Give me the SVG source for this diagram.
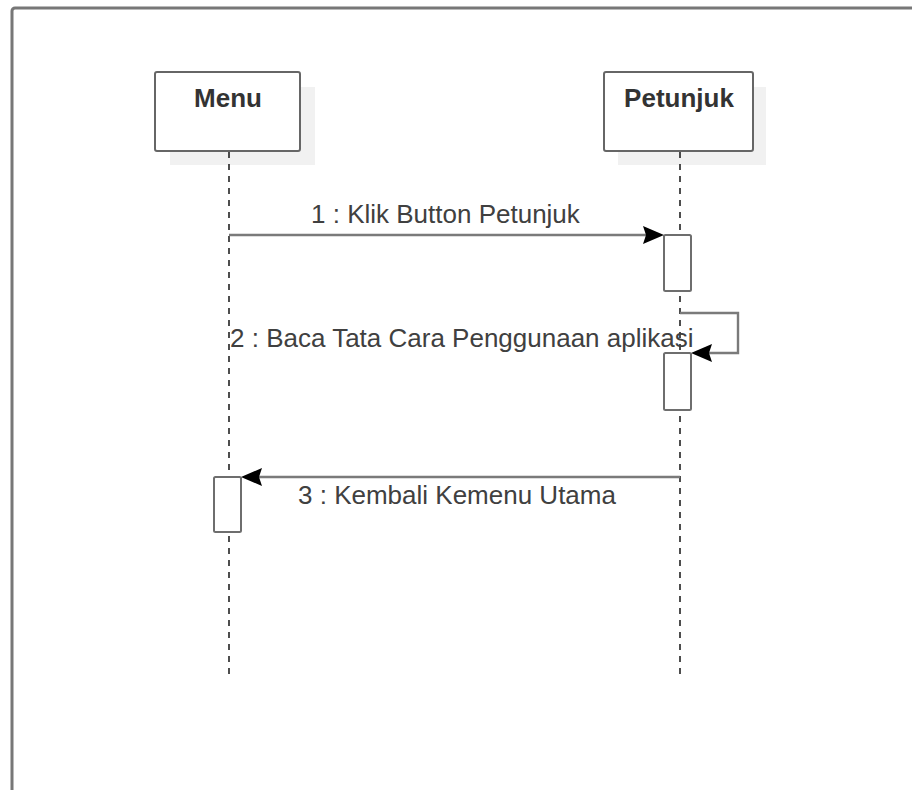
<svg xmlns="http://www.w3.org/2000/svg" width="912" height="790" viewBox="0 0 912 790">
  <style>
    .frame { fill: #ffffff; stroke: #777777; stroke-width: 3; }
    .shadow { fill: #f1f1f1; }
    .head { fill: #ffffff; stroke: #666666; stroke-width: 2; }
    .title { font-family: "Liberation Sans", Arial, sans-serif; font-size: 26px; font-weight: bold; fill: #333333; text-anchor: middle; }
    .life { stroke: #222222; stroke-width: 1.6; stroke-dasharray: 6 6; fill: none; }
    .act { fill: #ffffff; stroke: #6e6e6e; stroke-width: 2; }
    .msg { stroke: #7a7a7a; stroke-width: 2.4; fill: none; }
    .arrow { fill: #000000; }
    .label { font-family: "Liberation Sans", Arial, sans-serif; font-size: 26px; fill: #404040; }
  </style>

  <rect width="912" height="790" fill="#ffffff"/>
  <!-- outer frame, continuing past the right and bottom edges -->
  <rect class="frame" x="12" y="8" width="960" height="850" rx="3"/>

  <g id="menu">
    <rect class="shadow" x="170" y="87" width="145" height="78"/>
    <rect class="head" x="155" y="72" width="145" height="79" rx="2"/>
    <text class="title" x="228" y="107">Menu</text>
  </g>

  <g id="petunjuk">
    <rect class="shadow" x="618" y="87" width="148" height="78"/>
    <rect class="head" x="604" y="72" width="149" height="79" rx="2"/>
    <text class="title" x="679" y="107">Petunjuk</text>
  </g>

  <!-- lifelines -->
  <g id="lifelines">
    <line class="life" x1="229" y1="152" x2="229" y2="676"/>
    <line class="life" x1="680" y1="152" x2="680" y2="676"/>
  </g>

  <!-- activation bars -->
  <g id="activation-petunjuk-1">
    <rect class="act" x="664" y="235" width="27" height="56" rx="1.5"/>
  </g>
  <g id="activation-petunjuk-2">
    <rect class="act" x="664" y="353" width="27" height="57" rx="1.5"/>
  </g>
  <g id="activation-menu">
    <rect class="act" x="214" y="477" width="27" height="55" rx="1.5"/>
  </g>

  <!-- messages -->
  <g id="connectors">
    <line class="msg" x1="229" y1="235" x2="648" y2="235"/>
    <polygon class="arrow" points="664,235 643,226 646,235 643,244"/>

    <polyline class="msg" points="680,313 738,313 738,353 707,353"/>
    <polygon class="arrow" points="691,353 712,344 709,353 712,362"/>

    <line class="msg" x1="680" y1="477" x2="257" y2="477"/>
    <polygon class="arrow" points="241,477 262,468 259,477 262,486"/>
  </g>

  <g id="labels">
    <text class="label" x="311" y="223">1 : Klik Button Petunjuk</text>
    <text class="label" x="230" y="347">2 : Baca Tata Cara Penggunaan aplikasi</text>
    <text class="label" x="298" y="504">3 : Kembali Kemenu Utama</text>
  </g>
</svg>
